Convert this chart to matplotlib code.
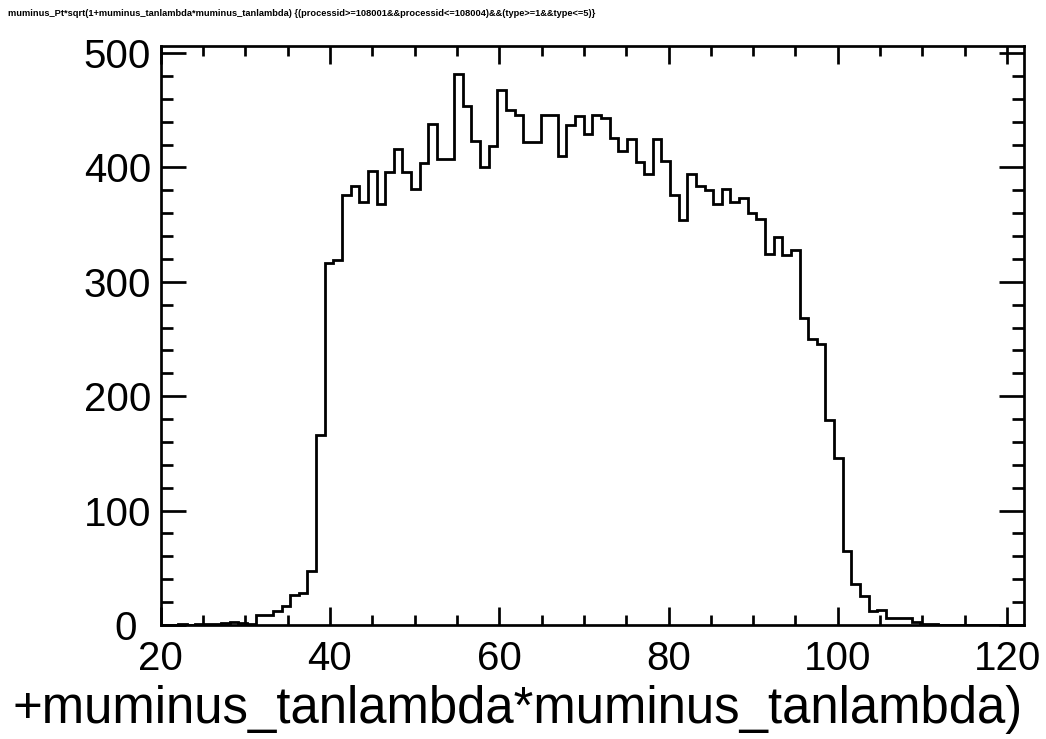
import numpy as np
import matplotlib
matplotlib.use("Agg")
import matplotlib.pyplot as plt
from matplotlib.ticker import MultipleLocator, FixedLocator
from matplotlib.transforms import ScaledTranslation

# ---------------- data ----------------
x_min, x_max, n_bins = 20.0, 122.0, 100
counts = [
    0, 0, 1, 0, 1, 1, 1, 2, 3, 2,            # bins 0-9
    1, 9, 9, 12, 17, 26, 28, 47, 166, 316,   # 10-19
    319, 376, 384, 370, 397, 368, 396, 416, 396, 381,  # 20-29
    404, 438, 407, 407, 482, 454, 423, 400, 419, 468,  # 30-39
    450, 446, 422, 422, 446, 446, 410, 437, 445, 429,  # 40-49
    446, 443, 426, 414, 425, 405, 394, 425, 406, 376,  # 50-59
    354, 394, 384, 380, 368, 381, 370, 373, 360, 355,  # 60-69
    324, 339, 323, 328, 268, 250, 246, 179, 146, 65,   # 70-79
    36, 25, 12, 13, 6, 6, 6, 3, 1, 1,                  # 80-89
    0, 0, 0, 0, 0, 0, 0, 0, 0, 0,                      # 90-99
]
x_major = [20, 40, 60, 80, 100, 120]
y_major = [0, 100, 200, 300, 400, 500]
title_text = ("muminus_Pt*sqrt(1+muminus_tanlambda*muminus_tanlambda) "
              "{(processid>=108001&&processid<=108004)&&(type>=1&&type<=5)}")
xlabel_text = "+muminus_tanlambda*muminus_tanlambda)"

# ---------------- figure ----------------
W, H = 1046, 739
plt.rcParams['font.family'] = ['Liberation Sans', 'DejaVu Sans']
fig = plt.figure(figsize=(W / 100, H / 100), dpi=100)
ax_l, ax_r, ax_t, ax_b = 160.7, 1024.0, 46.0, 625.0
ax = fig.add_axes([ax_l / W, 1 - ax_b / H, (ax_r - ax_l) / W, (ax_b - ax_t) / H])

edges = np.linspace(x_min, x_max, n_bins + 1)
ax.stairs(counts, edges, color='black', linewidth=2.0, baseline=0)

ax.set_xlim(x_min, x_max)
ax.set_ylim(0, 1.05 * max(counts))

ax.xaxis.set_major_locator(FixedLocator(x_major))
ax.xaxis.set_minor_locator(MultipleLocator(5))
ax.yaxis.set_major_locator(FixedLocator(y_major))
ax.yaxis.set_minor_locator(MultipleLocator(20))

lw = 1.95
for s in ax.spines.values():
    s.set_linewidth(lw)
ax.tick_params(axis='both', which='both', direction='in', top=True, right=True,
               width=lw, colors='black', labelsize=29)
ax.tick_params(axis='x', which='major', length=13, pad=11)
ax.tick_params(axis='x', which='minor', length=7.2)
ax.tick_params(axis='y', which='major', length=18, pad=7)
ax.tick_params(axis='y', which='minor', length=8.6)

# the "0" label sits a little further left in the reference (clear of "20")
t0 = ax.yaxis.get_major_ticks()[0]
t0.label1.set_transform(t0.label1.get_transform()
                        + ScaledTranslation(-14 / 100, 0, fig.dpi_scale_trans))

title = fig.text(8 / W, 1 - 16 / H, title_text, ha='left', va='baseline',
                 fontsize=7, fontweight='bold')
xlab = fig.text(1023 / W, 1 - 723 / H, xlabel_text, ha='right', va='baseline',
                fontsize=36)

# fit text widths to the reference layout
fig.canvas.draw()
r = fig.canvas.get_renderer()
for t, target in ((title, 589.0), (xlab, 1013.0)):
    w = t.get_window_extent(r).width
    t.set_fontsize(t.get_fontsize() * target / w)

fig.savefig("out.png", dpi=100)
